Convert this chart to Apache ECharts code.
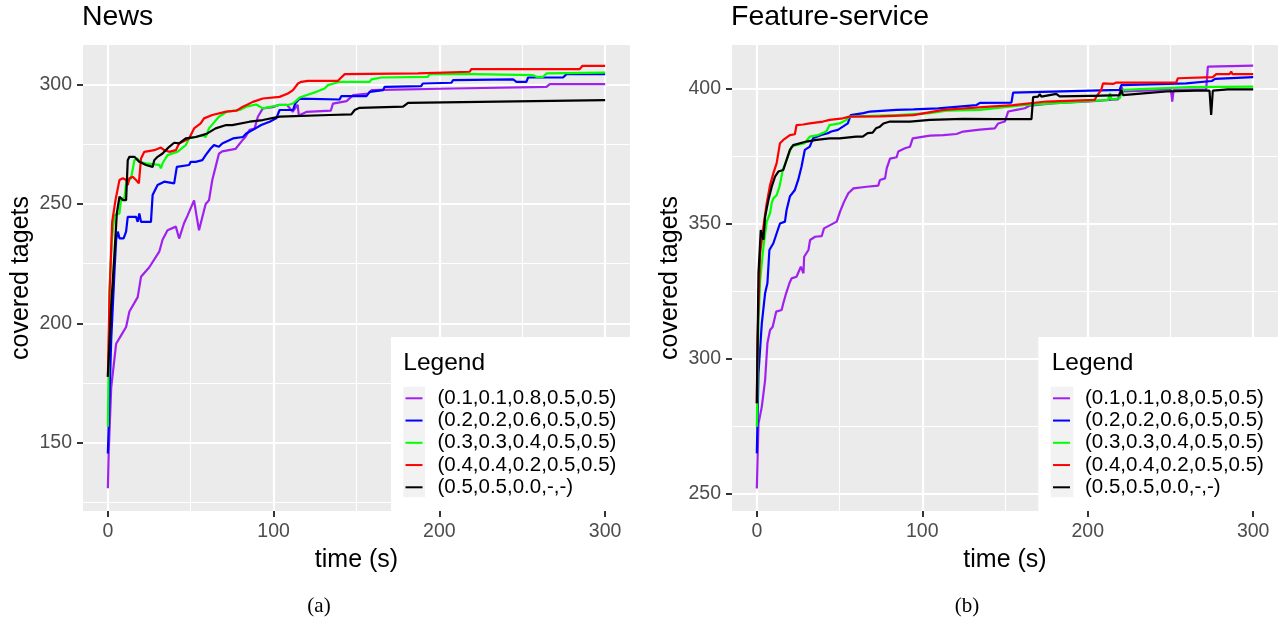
<!DOCTYPE html>
<html><head><meta charset="utf-8">
<script src="https://cdn.jsdelivr.net/npm/echarts@6/dist/echarts.min.js"></script>
<style>html,body{margin:0;padding:0;background:#fff}#c{width:1280px;height:624px}</style>
</head><body><div id="c"></div>
<script>
const seriesNames = ['(0.1,0.1,0.8,0.5,0.5)','(0.2,0.2,0.6,0.5,0.5)','(0.3,0.3,0.4,0.5,0.5)','(0.4,0.4,0.2,0.5,0.5)','(0.5,0.5,0.0,-,-)'];
const seriesColors = ['#A020F0','#0000FF','#00FF00','#FF0000','#000000'];

const newsPurple = [[0,131],[0.5,146],[2,173],[5,191.5],[8,195],[11,198.5],[13,205],[18,211],[20,219.5],[25,223.5],[31,230],[33,235],[36,239],[41,240.5],[43,235.5],[46,242],[48,245],[52,251.5],[53.5,245],[55,239],[57,244.5],[59,250],[61,251.5],[63,260],[65,265.5],[67,271],[69,272],[77,273],[81,276.5],[83,278],[85.5,281],[88.5,281.5],[90.5,286.5],[93.5,290],[99.5,290.5],[103.5,291.5],[108,291.5],[111.5,288.5],[114.5,291.5],[115.2,287],[119.7,288.5],[134.5,289],[135.8,292],[144,293],[148,295.5],[157,296.2],[159,297.6],[208.3,298.3],[209.3,299],[264.6,299],[266.6,300.1],[300,300.1]];
const newsBlue = [[0,145.6],[2,193],[4,222],[5,235],[6,238.4],[7,235.6],[9.5,235.6],[11,238.4],[12,244.6],[17,244.6],[18,242.5],[19,246],[20,242.5],[26,242.5],[27,253.7],[30,257.9],[34,259.3],[40,258.6],[41.6,265.5],[49,266.3],[50,267.6],[53,267.6],[54,268.3],[57,268.3],[59,270.4],[62,273.2],[64,274.6],[67,273.9],[69,275.3],[75.5,277.4],[81.5,278],[83.5,279.5],[87.5,281],[92.5,283],[97.6,284.4],[101.6,285.8],[103.6,289.3],[111.7,289.3],[113,292],[115.7,294.1],[139.8,293.7],[140.8,295.1],[156,295.1],[158,296.9],[166,297.6],[167,299],[189,299.3],[190,300.4],[207.2,300.7],[208.3,301.8],[244.5,302.1],[246.5,301.1],[252.5,301.1],[253.5,302.9],[274.6,302.9],[276.7,304.3],[300,304.3]];
const newsGreen = [[0,156.8],[1,214],[2.4,235],[4,245.3],[7,246],[8,252.3],[10,252.3],[11,258.6],[14,260.7],[16,268.3],[18,269],[19,267.6],[23,267],[31,266.3],[32,264.9],[33,267],[36,270.4],[42,271.8],[47,274.6],[49,277.4],[53,278],[57,278.8],[59,278],[61,281.6],[67,286.5],[72,288.6],[79.5,289.3],[83.5,290.7],[89.5,291.6],[93.5,290],[103.6,291.4],[108.6,291.4],[111.7,292],[115.7,294.5],[119.7,295.5],[125.8,296.9],[130.8,298.3],[132.8,299.7],[139.8,301.1],[158,301.1],[159,302.1],[165,302.9],[193,303.2],[194.2,304.3],[220.3,304.3],[221.3,303.9],[256.5,303.9],[258.5,303.2],[262.6,303.2],[264.6,304.6],[300,304.9]];
const newsRed = [[0,177.7],[1,212.5],[2.6,242.5],[4.6,251.6],[7,260],[9,260.7],[11,260],[12,257.9],[13,260.7],[15,261.4],[17,260],[18.7,258.6],[20,269],[22,271.8],[28,272.5],[32,273.6],[34,272.5],[37,271.8],[41,272.5],[43,275.3],[49,277.4],[52,281.6],[56,283.7],[58,285.8],[63,287.2],[71.4,288.6],[77.5,289],[81.5,290.7],[87.5,292.7],[93.5,294.1],[103.6,294.8],[108.6,296.2],[111.7,297.6],[114.7,300.4],[116.7,301.1],[120.7,301.5],[138.8,301.5],[140.8,302.9],[142.9,304.3],[187.1,304.6],[188.1,305.3],[218.3,305.3],[219.3,306.4],[284.7,306.4],[286.3,307.8],[300,307.8]];
const newsBlack = [[0,177.7],[2,207],[4,229.3],[5.4,246],[7,253],[9,251.6],[11,251.6],[12,268.3],[13,269.7],[16,269.7],[19,267.6],[23,266.3],[27,265.5],[28,268.3],[30,269.7],[33,271.1],[37,273.9],[40,275.6],[43,275.3],[47,277.4],[53,278],[57,278.8],[60,279.5],[61,280],[65,281.6],[71.4,283],[75,283],[85.5,284.4],[93.5,285.1],[103.6,286.5],[133.8,287.2],[146.9,287.5],[148.9,289.3],[151.9,290.2],[178.1,290.7],[181.1,292.3],[224.3,292.7],[225.4,293.4],[300,293.4]];

const fsPurple = [[0,252],[1,276],[3,282.2],[5,292],[6.4,305.7],[8,310.6],[9.6,311.8],[11.7,317.4],[15,318],[16,320.5],[17.7,324.2],[19.7,327.9],[21,329.7],[24,330.3],[26.6,334],[28.2,331.6],[28.6,337.7],[31.2,340.2],[32.2,343.9],[35.2,345.1],[39.2,345.3],[40.6,348.2],[44.3,349.4],[48.3,350.7],[50.3,354.4],[52.7,358],[55.3,361.2],[58.4,363],[66.4,363.6],[73.4,364],[74.4,366.1],[77.5,366.7],[78.5,370.4],[80.5,374],[84.5,374.5],[85.5,376.6],[89.5,377.8],[92.6,378.4],[94.2,381.5],[95,382.1],[104.6,382.5],[112.7,382.7],[120.7,383.1],[124.7,384],[134.8,384.7],[143.8,385.2],[145.9,387],[149.9,387.7],[151.9,391.4],[156.9,392],[162,392.6],[165,393.6],[180,394.5],[201.2,395.1],[213.3,395.7],[218.3,395.9],[220.3,400.6],[221.7,398.8],[247.5,399.4],[250.3,399.4],[251.1,395.1],[251.9,399.4],[271.6,399.6],[272.6,408],[300,408.4]];
const fsBlue = [[0,265],[1,294.6],[3,313],[5,324.2],[6.4,327.9],[7.6,340.2],[10,342.7],[12,346.4],[14,350],[17,350.7],[18,355],[20,360],[23,362.4],[25,366.1],[27,371],[29,377.2],[32,378.4],[34,381.5],[39,382.7],[43,383.4],[45,384],[49,384.6],[52,385.8],[55,387],[56.7,390.1],[64.4,390.8],[68.4,391.4],[84.5,392],[94.6,392.2],[109.7,392.6],[110.7,393.2],[132.8,393.8],[134.8,394.6],[153.9,394.7],[154.9,398.4],[219.3,399.4],[220.3,401.2],[259.5,401.8],[260.6,402.5],[275,402.7],[277,403.5],[300,404.1]];
const fsGreen = [[0,274.8],[1,313],[2,329],[4,341.4],[6,350.7],[8,353.8],[9,357.5],[10,359.3],[12,360.5],[13.7,363.6],[15.7,369.8],[18,373.5],[21,378.4],[24,379],[29,379.7],[32,382.1],[37,382.7],[42,384],[44,386.4],[50,387],[54,388.3],[56,389.5],[84.5,390.1],[104.6,390.8],[114.7,391.7],[134.8,392],[161,393.8],[181,394.5],[212.3,395.7],[213.5,398.2],[214.3,395.8],[219.3,396.3],[221.3,399.4],[261.5,400.4],[300,400.6]];
const fsRed = [[0,283.5],[0.4,307],[2,339],[4,348.8],[6,357.5],[8,364.2],[9,364.5],[10,368.6],[12,372.3],[14,379.7],[16,380.9],[17,381.5],[20,382.7],[23,383],[24,386.4],[28,386.6],[32,387],[40,387.7],[44,388.3],[52,388.9],[56,389.5],[74.4,389.6],[94.6,390.1],[112.7,392],[140.8,393.2],[154.9,393.8],[175,395.1],[204.2,395.7],[205.2,396.9],[208.2,399.4],[209.2,401.8],[215.3,401.6],[217.3,402.1],[223.3,402.1],[253.5,402.2],[254.5,403.7],[275.6,404.1],[277.7,405.2],[285.7,405.2],[286.7,406.2],[287.5,405.2],[300,405.2]];
const fsBlack = [[0,283.5],[1,331.6],[2.4,347.6],[4,344],[5,352.5],[7,358.7],[9,363.6],[11,367.3],[13,369.2],[16,369.8],[18,373.5],[20,377.2],[22,379],[30,380.3],[36,380.9],[44,381.5],[50,381.5],[60,382.1],[64,382.1],[67,383.4],[70,383.6],[72,385.2],[74.4,385.8],[76.5,387],[80.5,387.7],[92.6,387.7],[104.6,388.3],[124.7,388.7],[144.9,388.6],[166,388.6],[167,396.7],[170,396.9],[171,397.8],[172,396.9],[181,397.9],[183,397],[201.2,397.2],[202.3,397.9],[203.4,397.2],[219.3,397.5],[220.3,399.4],[221.3,397.5],[235.4,398.2],[247.5,398.8],[265.6,399.1],[273.6,399.1],[274.6,390.1],[275.6,399.1],[284.7,399.6],[300,399.6]];

const xTicks = [0,100,200,300];
const xMinor = [50,150,250];
const newsYTicks = [150,200,250,300];
const newsYMinor = [125,175,225,275];
const fsYTicks = [250,300,350,400];
const fsYMinor = [275,325,375];

const FONT = 'Liberation Sans';
const chart = echarts.init(document.getElementById('c'), null, {renderer:'canvas', width:1280, height:624});

function gridSeries(gi, xMaj, xMin, yMaj, yMin) {
  const major = {color:'#FFFFFF', width:2.2, type:'solid'};
  const minor = {color:'#FFFFFF', width:1.1, type:'solid'};
  const data = [];
  xMin.forEach(v => data.push({xAxis:v, lineStyle:minor}));
  yMin.forEach(v => data.push({yAxis:v, lineStyle:minor}));
  xMaj.forEach(v => data.push({xAxis:v, lineStyle:major}));
  yMaj.forEach(v => data.push({yAxis:v, lineStyle:major}));
  return {type:'line', name:'grid'+gi, xAxisIndex:gi, yAxisIndex:gi, data:[], silent:true, z:1,
    animation:false,
    markLine:{silent:true, z:1, animation:false, symbol:['none','none'], label:{show:false},
      emphasis:{disabled:true}, data:data}};
}
function dataSeries(gi, idx, d) {
  return {type:'line', name:seriesNames[idx], xAxisIndex:gi, yAxisIndex:gi, data:d,
    showSymbol:false, symbol:'none', z:2, animation:false,
    lineStyle:{width:2.2, color:seriesColors[idx]}, itemStyle:{color:seriesColors[idx]},
    emphasis:{disabled:true}};
}
function xAxisCfg(gi) {
  return {type:'value', gridIndex:gi, min:-15, max:315, name:'time (s)', nameLocation:'middle', nameGap:37,
    nameTextStyle:{fontSize:25, color:'#000', fontFamily:FONT},
    axisLine:{show:false, onZero:false},
    axisTick:{show:true, customValues:xTicks, length:6, lineStyle:{color:'#333333', width:2}},
    axisLabel:{customValues:xTicks, margin:11, fontSize:19.5, color:'#4D4D4D', fontFamily:FONT},
    splitLine:{show:false}, minorSplitLine:{show:false}};
}
function yAxisCfg(gi, mn, mx, ticks) {
  return {type:'value', gridIndex:gi, min:mn, max:mx, name:'covered tagets', nameLocation:'middle', nameGap:49,
    nameTextStyle:{fontSize:25, color:'#000', fontFamily:FONT},
    axisLine:{show:false, onZero:false},
    axisTick:{show:true, customValues:ticks, length:6, lineStyle:{color:'#333333', width:2}},
    axisLabel:{customValues:ticks, margin:11, fontSize:19.5, color:'#4D4D4D', fontFamily:FONT},
    splitLine:{show:false}, minorSplitLine:{show:false}};
}
function legendCfg(left) {
  return {orient:'vertical', left:left, top:387.3, itemWidth:17, itemHeight:2, itemGap:0.25, icon:'rect',
    data:seriesNames, selectedMode:false, z:6, padding:0,
    textStyle:{fontSize:20.5, lineHeight:22, color:'#000', fontFamily:FONT, padding:[0,0,0,10]}};
}
function txt(x, y, s, size, family, align) {
  return {type:'text', x:x, y:y, z:7, silent:true,
    style:{text:s, fontSize:size, fontFamily:family, fill:'#000', align:align || 'left', verticalAlign:'middle'}};
}

const option = {
  backgroundColor:'#FFFFFF',
  animation:false,
  grid:[
    {left:83, top:45, width:547, height:466, show:true, backgroundColor:'#EBEBEB', borderWidth:0, containLabel:false, outerBoundsMode:'none'},
    {left:732, top:45, width:546, height:466, show:true, backgroundColor:'#EBEBEB', borderWidth:0, containLabel:false, outerBoundsMode:'none'}
  ],
  xAxis:[xAxisCfg(0), xAxisCfg(1)],
  yAxis:[yAxisCfg(0, 121.5, 316.5, newsYTicks), yAxisCfg(1, 243.7, 416, fsYTicks)],
  legend:[legendCfg(405.5), legendCfg(1053)],
  series:[
    gridSeries(0, xTicks, xMinor, newsYTicks, newsYMinor),
    gridSeries(1, xTicks, xMinor, fsYTicks, fsYMinor),
    dataSeries(0,0,newsPurple), dataSeries(0,1,newsBlue), dataSeries(0,2,newsGreen), dataSeries(0,3,newsRed), dataSeries(0,4,newsBlack),
    dataSeries(1,0,fsPurple), dataSeries(1,1,fsBlue), dataSeries(1,2,fsGreen), dataSeries(1,3,fsRed), dataSeries(1,4,fsBlack)
  ],
  graphic:[
    {type:'rect', z:3, silent:true, shape:{x:391, y:337, width:240, height:174}, style:{fill:'#FFFFFF'}},
    {type:'rect', z:4, silent:true, shape:{x:403.3, y:386.7, width:21.7, height:110.5}, style:{fill:'#F2F2F2'}},
    {type:'rect', z:3, silent:true, shape:{x:1038.3, y:337, width:240, height:174}, style:{fill:'#FFFFFF'}},
    {type:'rect', z:4, silent:true, shape:{x:1050.7, y:386.7, width:22.6, height:110.5}, style:{fill:'#F2F2F2'}},
    txt(403.3, 363, 'Legend', 24.5, FONT),
    txt(1051.7, 363, 'Legend', 24.5, FONT),
    txt(82, 17.5, 'News', 28.5, FONT),
    txt(731, 17.5, 'Feature-service', 28.5, FONT),
    txt(319, 606, '(a)', 21, 'Liberation Serif', 'center'),
    txt(967, 606, '(b)', 21, 'Liberation Serif', 'center')
  ]
};
chart.setOption(option);
</script>
</body></html>
